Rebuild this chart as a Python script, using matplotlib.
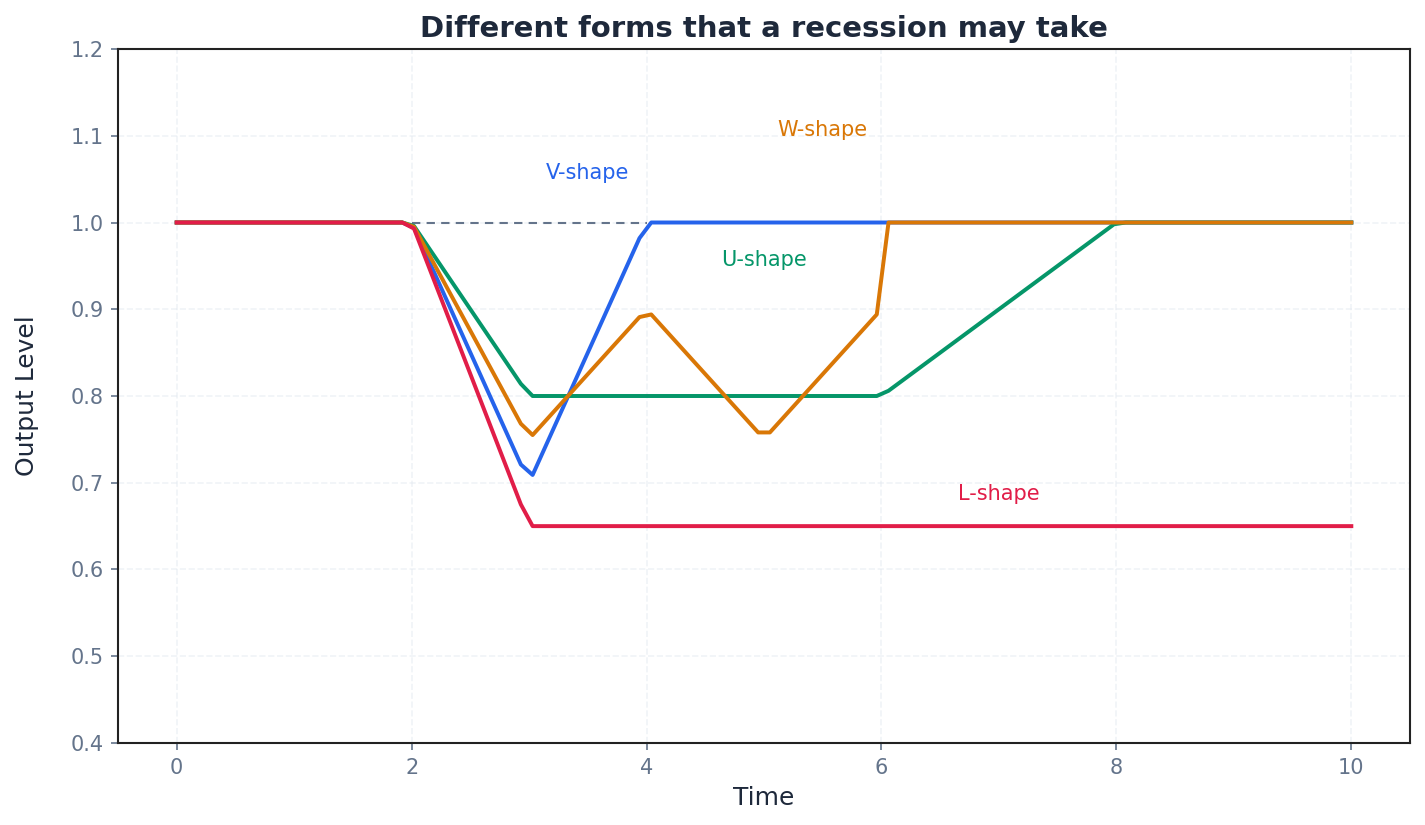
import matplotlib
matplotlib.use("Agg")
import matplotlib.pyplot as plt

# values (corner points of each path)
v_time = [0, 1.92, 2.02, 2.93, 3.03, 3.94, 4.04, 10]
v_vals = [1.0, 1.0, 0.994, 0.721, 0.709, 0.982, 1.0, 1.0]

u_time = [0, 1.92, 2.02, 2.93, 3.03, 5.96, 6.06, 7.98, 8.08, 10]
u_vals = [1.0, 1.0, 0.996, 0.814, 0.80, 0.80, 0.806, 0.998, 1.0, 1.0]

w_time = [0, 1.92, 2.02, 2.93, 3.03, 3.94, 4.04, 4.95, 5.05, 5.96, 6.06, 10]
w_vals = [1.0, 1.0, 0.995, 0.768, 0.755, 0.891, 0.894, 0.758, 0.758, 0.894, 1.0, 1.0]

l_time = [0, 1.92, 2.02, 2.93, 3.03, 10]
l_vals = [1.0, 1.0, 0.993, 0.675, 0.65, 0.65]

ref_time = [2, 4]
ref_vals = [1.0, 1.0]

labels = ["V-shape", "U-shape", "W-shape", "L-shape"]
label_pos = [(3.5, 1.05), (5.0, 0.95), (5.5, 1.10), (7.0, 0.68)]
colors = ["#2563eb", "#059669", "#d97706", "#e11d48"]

fig = plt.figure(figsize=(9.5, 5.5), dpi=150)
ax = fig.add_axes([0.0828, 0.0994, 0.9067, 0.8412])

ax.plot(ref_time, ref_vals, color="#64748b", lw=1, ls=(0, (4, 3)))

series = [(v_time, v_vals), (u_time, u_vals), (w_time, w_vals), (l_time, l_vals)]
for (t, y), c in zip(series, colors):
    ax.plot(t, y, color=c, lw=1.9)

for lab, (x, y), c in zip(labels, label_pos, colors):
    ax.text(x, y, lab, color=c, fontsize=10, ha="center", va="baseline")

ax.set_xlim(-0.5, 10.5)
ax.set_ylim(0.4, 1.2)
ax.set_xticks([0, 2, 4, 6, 8, 10])
ax.set_yticks([0.4, 0.5, 0.6, 0.7, 0.8, 0.9, 1.0, 1.1, 1.2])
ax.grid(True, ls="--", color="#e2e8f0", alpha=0.5, lw=0.8)
ax.tick_params(colors="#64748b", labelsize=10)
for s in ax.spines.values():
    s.set_color("#222222")
    s.set_linewidth(1)

ax.set_title("Different forms that a recession may take", fontsize=14,
             fontweight="bold", color="#1e293b")
ax.set_xlabel("Time", fontsize=12, color="#1e293b")
ax.set_ylabel("Output Level", fontsize=12, color="#1e293b", labelpad=15)

fig.savefig("out.png")
